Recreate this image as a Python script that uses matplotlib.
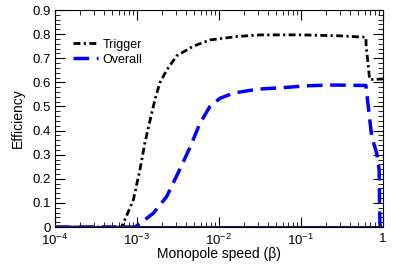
import matplotlib
matplotlib.use('Agg')
import matplotlib.pyplot as plt
import matplotlib.transforms as mtransforms
import numpy as np
from matplotlib.ticker import MultipleLocator, LogLocator, FuncFormatter, NullFormatter

plt.rcParams['font.family'] = ['Liberation Sans', 'DejaVu Sans']
plt.rcParams['mathtext.fontset'] = 'custom'
plt.rcParams['mathtext.rm'] = 'Liberation Sans'
plt.rcParams['mathtext.it'] = 'Liberation Sans'

# trigger efficiency vs beta
trig_beta = [1e-4, 6.5e-4, 6.8e-4, 9.0e-4, 1.09e-3, 1.25e-3, 1.44e-3, 1.66e-3, 1.91e-3,
             2.3e-3, 3.05e-3, 4.86e-3, 7.76e-3, 0.0164, 0.032, 0.1, 0.3, 0.62, 0.625,
             0.69, 1.0]
trig_eff = [0.0, 0.0, 0.015, 0.11, 0.24, 0.35, 0.44, 0.53, 0.60,
            0.65, 0.71, 0.75, 0.776, 0.79, 0.797, 0.797, 0.793, 0.787, 0.75,
            0.612, 0.614]

# overall efficiency vs beta
all_beta = [1e-4, 9.5e-4, 1.09e-3, 1.58e-3, 2.3e-3, 3.34e-3, 4.43e-3, 5.86e-3, 7.76e-3,
            0.0103, 0.0149, 0.018, 0.03, 0.06, 0.12, 0.25, 0.62, 0.73, 0.84, 0.90,
            0.91, 0.92, 0.93]
all_eff = [0.0, 0.0, 0.015, 0.057, 0.126, 0.24, 0.33, 0.43, 0.50,
           0.534, 0.555, 0.56, 0.572, 0.578, 0.586, 0.589, 0.587, 0.375, 0.306, 0.237,
           0.10, 0.017, 0.0]

fig = plt.figure(figsize=(3.97, 2.64), dpi=100)
ax = fig.add_axes([0.1385, 0.140, 0.826, 0.822])

ax.plot(trig_beta, trig_eff, color='black', lw=2, dashes=(2.5, 1.2, 0.8, 1.2), label='Trigger')
ax.plot(all_beta, all_eff, color='#0000ff', lw=2.5, dashes=(4.5, 2.2), label='Overall')
ax.axhline(0, color='#1a1a6e', lw=1.5, zorder=3)

ax.set_xscale('log')
ax.set_xlim(1e-4, 1)
ax.set_ylim(0, 0.9)

ax.yaxis.set_major_locator(MultipleLocator(0.1))
ax.yaxis.set_minor_locator(MultipleLocator(0.02))
ax.yaxis.set_major_formatter(FuncFormatter(lambda v, p: '0' if abs(v) < 1e-9 else '%.1f' % v))
ax.xaxis.set_major_locator(LogLocator(base=10, numticks=10))
ax.xaxis.set_minor_locator(LogLocator(base=10, subs=np.arange(2, 10), numticks=20))
ax.xaxis.set_minor_formatter(NullFormatter())
ax.xaxis.set_major_formatter(FuncFormatter(
    lambda v, p: '1' if abs(v - 1) < 1e-9 else r'$10^{%d}$' % round(np.log10(v))))

ax.tick_params(which='both', direction='in', top=True, right=True, labelsize=9.5)
ax.tick_params(axis='x', pad=4.5)
ax.tick_params(axis='y', pad=3)
ax.tick_params(which='major', length=7, width=0.8)
ax.tick_params(which='minor', length=3.5, width=0.6)

ax.set_xlabel('Monopole speed (β)', fontsize=10, labelpad=-1)
ax.set_ylabel('Efficiency', fontsize=10, labelpad=5)

ax.legend(loc='upper left', bbox_to_anchor=(0.02, 0.92), frameon=False, fontsize=9,
          handlelength=2.0, handletextpad=0.4, labelspacing=0.25)

# nudge the "0" label up a little so it clears the 10^-4 label
fig.canvas.draw()
zero_lab = ax.yaxis.get_major_ticks()[0].label1
zero_lab.set_transform(zero_lab.get_transform() +
                       mtransforms.ScaledTranslation(0, 2 / 72, fig.dpi_scale_trans))

fig.savefig('out.png', dpi=100)
